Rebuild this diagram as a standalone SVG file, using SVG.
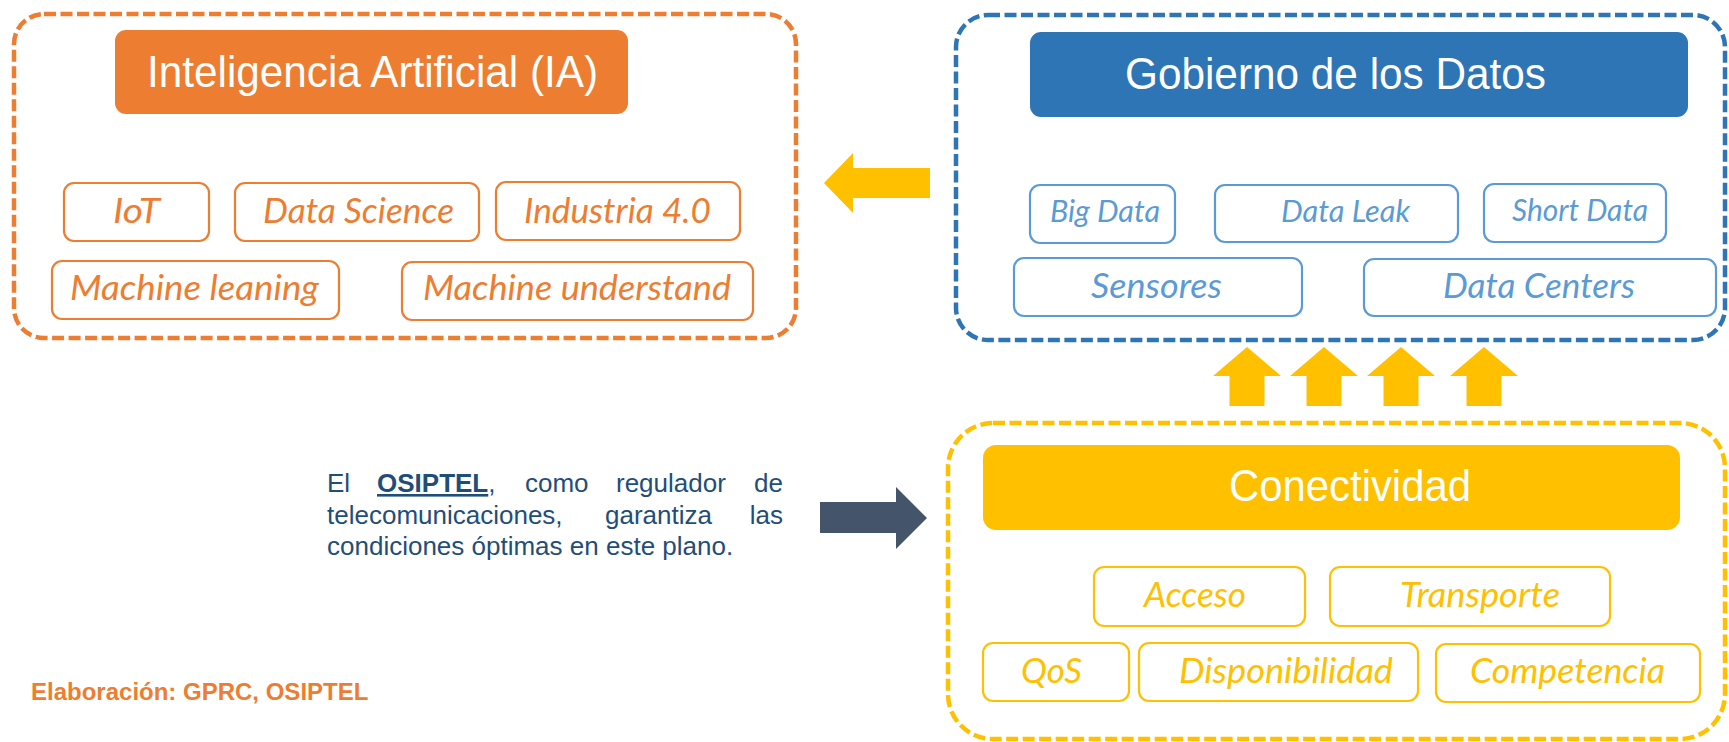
<svg xmlns="http://www.w3.org/2000/svg" xmlns:xlink="http://www.w3.org/1999/xlink" width="1729" height="742" viewBox="0 0 1729 742">
<defs>
<style>
.frame{fill:none;stroke-width:4.5;stroke-dasharray:12 4.5}
.title{font-family:"Liberation Sans",Arial,sans-serif;font-size:44px;fill:#ffffff;text-anchor:middle}
.tag{fill:#ffffff;stroke-width:2.2}
.lbl{font-family:Lato,"Open Sans",sans-serif;font-style:italic;text-anchor:middle;stroke:none}
.tag.or{stroke:#ED7D31}
.tag.bl{stroke:#5B9BD5}
.tag.ye{stroke:#FFC000}
.lbl.or{fill:#ED7D31;font-size:35px}
.lbl.bl{fill:#5B9BD5;font-size:31.5px}
.lbl.bl2{fill:#5B9BD5;font-size:35px}
.lbl.ye{fill:#FFC000;font-size:35px}
.note{font-family:"Liberation Sans",Arial,sans-serif;font-size:26px;fill:#1F4E79}
</style>
<path id="up" d="M0,0 L34,29 L17.5,29 L17.5,59 L-17.5,59 L-17.5,29 L-34,29 Z"/>
</defs>

<g id="connectors">
  <polygon id="arrow-datos-ia" points="824,183 853,153 853,168 930,168 930,198 853,198 853,213" fill="#FFC000"/>
  <g id="arrows-conect-datos" fill="#FFC000">
    <use xlink:href="#up" x="1247" y="347"/>
    <use xlink:href="#up" x="1324" y="347"/>
    <use xlink:href="#up" x="1401" y="347"/>
    <use xlink:href="#up" x="1484" y="347"/>
  </g>
  <polygon id="arrow-osiptel" points="820,502 896,502 896,487 927,518 896,549 896,533 820,533" fill="#44546A"/>
</g>

<g id="ia">
  <rect class="frame" x="14" y="14" width="782" height="324" rx="30" stroke="#ED7D31"/>
  <rect x="115" y="30" width="513" height="84" rx="11" fill="#ED7D31"/>
  <text class="title" x="372.5" y="87" textLength="451" lengthAdjust="spacingAndGlyphs">Inteligencia Artificial (IA)</text>
  <g id="ia-iot"><rect class="tag or" x="64" y="183" width="145" height="58" rx="10"/><text class="lbl or" x="136.5" y="223" textLength="47" lengthAdjust="spacingAndGlyphs">IoT</text></g>
  <g id="ia-ds"><rect class="tag or" x="235" y="183" width="244" height="58" rx="10"/><text class="lbl or" x="358.5" y="223" textLength="191" lengthAdjust="spacingAndGlyphs">Data Science</text></g>
  <g id="ia-ind"><rect class="tag or" x="496" y="182" width="244" height="58" rx="10"/><text class="lbl or" x="617.5" y="223" textLength="187" lengthAdjust="spacingAndGlyphs">Industria 4.0</text></g>
  <g id="ia-ml"><rect class="tag or" x="52" y="261" width="287" height="58" rx="10"/><text class="lbl or" x="194.5" y="300" textLength="249" lengthAdjust="spacingAndGlyphs">Machine leaning</text></g>
  <g id="ia-mu"><rect class="tag or" x="402" y="262" width="351" height="58" rx="10"/><text class="lbl or" x="577" y="300" textLength="308" lengthAdjust="spacingAndGlyphs">Machine understand</text></g>
</g>

<g id="datos">
  <rect class="frame" x="956" y="15" width="769" height="325" rx="32" stroke="#2E75B6"/>
  <rect x="1030" y="32" width="658" height="85" rx="11" fill="#2E75B6"/>
  <text class="title" x="1335.5" y="89" textLength="421" lengthAdjust="spacingAndGlyphs">Gobierno de los Datos</text>
  <g id="d-big"><rect class="tag bl" x="1030" y="185" width="145" height="58" rx="10"/><text class="lbl bl" x="1105" y="222" textLength="110" lengthAdjust="spacingAndGlyphs">Big Data</text></g>
  <g id="d-leak"><rect class="tag bl" x="1215" y="185" width="243" height="57" rx="10"/><text class="lbl bl" x="1345.5" y="222" textLength="129" lengthAdjust="spacingAndGlyphs">Data Leak</text></g>
  <g id="d-short"><rect class="tag bl" x="1484" y="184" width="182" height="58" rx="10"/><text class="lbl bl" x="1580" y="221" textLength="136" lengthAdjust="spacingAndGlyphs">Short Data</text></g>
  <g id="d-sens"><rect class="tag bl" x="1014" y="258" width="288" height="58" rx="10"/><text class="lbl bl2" x="1156.5" y="298" textLength="131" lengthAdjust="spacingAndGlyphs">Sensores</text></g>
  <g id="d-dc"><rect class="tag bl" x="1364" y="259" width="352" height="57" rx="10"/><text class="lbl bl2" x="1539" y="298" textLength="192" lengthAdjust="spacingAndGlyphs">Data Centers</text></g>
</g>

<g id="conectividad">
  <rect class="frame" x="948" y="423" width="777" height="316" rx="45" stroke="#FFC000"/>
  <rect x="983" y="445" width="697" height="85" rx="13" fill="#FFC000"/>
  <text class="title" x="1350" y="501" textLength="242" lengthAdjust="spacingAndGlyphs">Conectividad</text>
  <g id="c-acc"><rect class="tag ye" x="1094" y="567" width="211" height="59" rx="10"/><text class="lbl ye" x="1195" y="607" textLength="102" lengthAdjust="spacingAndGlyphs">Acceso</text></g>
  <g id="c-tra"><rect class="tag ye" x="1330" y="567" width="280" height="59" rx="10"/><text class="lbl ye" x="1480" y="607" textLength="160" lengthAdjust="spacingAndGlyphs">Transporte</text></g>
  <g id="c-qos"><rect class="tag ye" x="983" y="643" width="146" height="58" rx="10"/><text class="lbl ye" x="1051.5" y="683" textLength="61" lengthAdjust="spacingAndGlyphs">QoS</text></g>
  <g id="c-disp"><rect class="tag ye" x="1139" y="643" width="279" height="58" rx="10"/><text class="lbl ye" x="1286" y="683" textLength="214" lengthAdjust="spacingAndGlyphs">Disponibilidad</text></g>
  <g id="c-comp"><rect class="tag ye" x="1436" y="644" width="264" height="58" rx="10"/><text class="lbl ye" x="1567.5" y="683" textLength="195" lengthAdjust="spacingAndGlyphs">Competencia</text></g>
</g>

<g id="osiptel-note">
  <text class="note" y="492"><tspan x="327">El</tspan><tspan x="377" font-weight="bold" text-decoration="underline">OSIPTEL</tspan><tspan>,</tspan><tspan x="525">como</tspan><tspan x="616">regulador</tspan><tspan x="783" text-anchor="end">de</tspan></text>
  <text class="note" y="523.5"><tspan x="327">telecomunicaciones,</tspan><tspan x="605">garantiza</tspan><tspan x="783" text-anchor="end">las</tspan></text>
  <text class="note" x="327" y="555">condiciones óptimas en este plano.</text>
</g>

<g id="credit">
  <text x="31" y="700" font-family="'Liberation Sans',Arial,sans-serif" font-size="24" font-weight="bold" fill="#ED7D31">Elaboración: GPRC, OSIPTEL</text>
</g>
</svg>
